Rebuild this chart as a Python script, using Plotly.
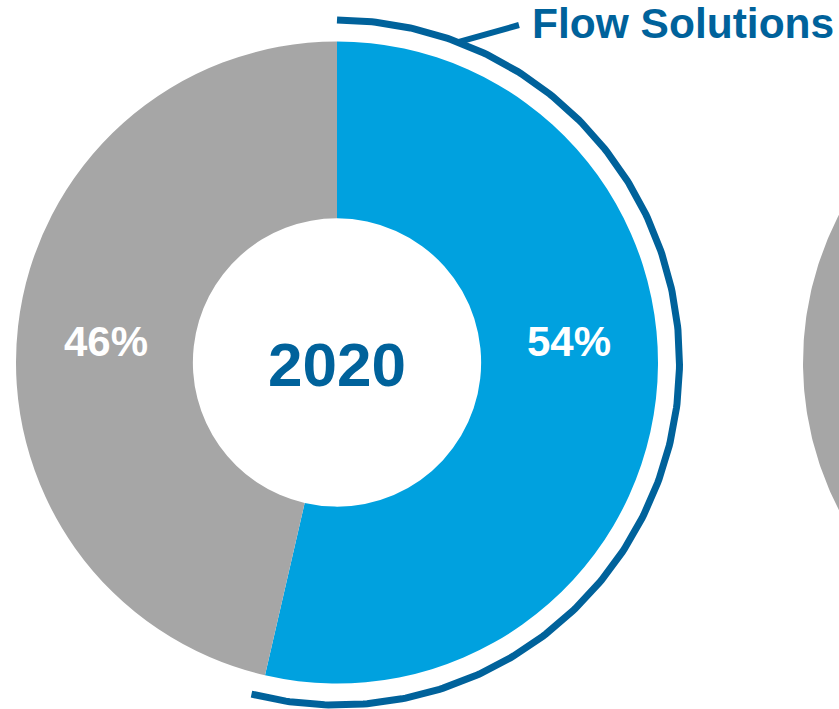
import numpy as np
import plotly.graph_objects as go

# ---- data ----
categories = ["Flow Solutions", "Other"]
shares_2020 = [53.6, 46.4]
year_label = "2020"
highlight_label = "Flow Solutions"
second_donut_other_share = 50.0  # next donut, only its grey left edge is visible

colors = ["#00A1DF", "#A6A6A6"]
dark_blue = "#00629B"

W, H = 839, 709
cx, cy, R = 337.0, 362.5, 321.0
hole = 0.449
arc_r = 342.5
arc_overhang = 1.5  # degrees beyond the slice edge

fig = go.Figure()

# main donut
fig.add_trace(go.Pie(
    labels=categories, values=shares_2020, hole=hole, sort=False,
    direction="clockwise", rotation=0,
    marker=dict(colors=colors, line=dict(width=0)),
    textinfo="none", hoverinfo="skip", showlegend=False,
    domain=dict(x=[(cx - R) / W, (cx + R) / W],
                y=[(H - cy - R) / H, (H - cy + R) / H]),
))

# highlight arc around Flow Solutions slice
total = sum(shares_2020)
end_deg = shares_2020[0] / total * 360 + arc_overhang
th = np.radians(np.linspace(0, end_deg, 300))
fig.add_trace(go.Scatter(
    x=cx + arc_r * np.sin(th), y=cy - arc_r * np.cos(th), mode="lines",
    line=dict(color=dark_blue, width=7), hoverinfo="skip", showlegend=False))

# leader line
lead_deg = np.radians(20.7)
fig.add_trace(go.Scatter(
    x=[cx + arc_r * np.sin(lead_deg), 519], y=[cy - arc_r * np.cos(lead_deg), 25],
    mode="lines", line=dict(color=dark_blue, width=6), hoverinfo="skip",
    showlegend=False))

# second donut (mostly off-canvas)
cx2 = 1124.0
a0 = 360 - second_donut_other_share / 100 * 360
t2 = np.radians(np.linspace(a0, 360, 300))
xo = cx2 + R * np.sin(t2); yo = cy - R * np.cos(t2)
xi = cx2 + R * hole * np.sin(t2[::-1]); yi = cy - R * hole * np.cos(t2[::-1])
fig.add_trace(go.Scatter(
    x=np.concatenate([xo, xi]), y=np.concatenate([yo, yi]), fill="toself",
    fillcolor=colors[1], line=dict(width=0), mode="lines", hoverinfo="skip",
    showlegend=False))

font_fam = "Liberation Sans, Arial, sans-serif"
pct = [f"{round(v / total * 100)}%" for v in shares_2020]
annotations = [
    dict(x=cx + 232, y=cy - 21, text=pct[0]),
    dict(x=cx - 231, y=cy - 21, text=pct[1]),
]
annots = []
for a in annotations:
    annots.append(dict(xref="x", yref="y", x=a["x"], y=a["y"], text=a["text"],
                       showarrow=False, xanchor="center", yanchor="middle",
                       font=dict(family=font_fam, size=42, color="white", weight="bold")))
annots.append(dict(xref="x", yref="y", x=cx, y=cy + 2, text=year_label, showarrow=False,
                   xanchor="center", yanchor="middle",
                   font=dict(family=font_fam, size=62, color=dark_blue, weight="bold")))
annots.append(dict(xref="x", yref="y", x=530, y=23, text=highlight_label, showarrow=False,
                   xanchor="left", yanchor="middle",
                   font=dict(family=font_fam, size=42.5, color=dark_blue, weight="bold")))

fig.update_layout(
    width=W, height=H, margin=dict(l=0, r=0, t=0, b=0),
    paper_bgcolor="white", plot_bgcolor="white",
    xaxis=dict(range=[0, W], visible=False, domain=[0, 1], fixedrange=True),
    yaxis=dict(range=[H, 0], visible=False, domain=[0, 1], fixedrange=True),
    annotations=annots, showlegend=False,
)

fig.write_html("out.html")
